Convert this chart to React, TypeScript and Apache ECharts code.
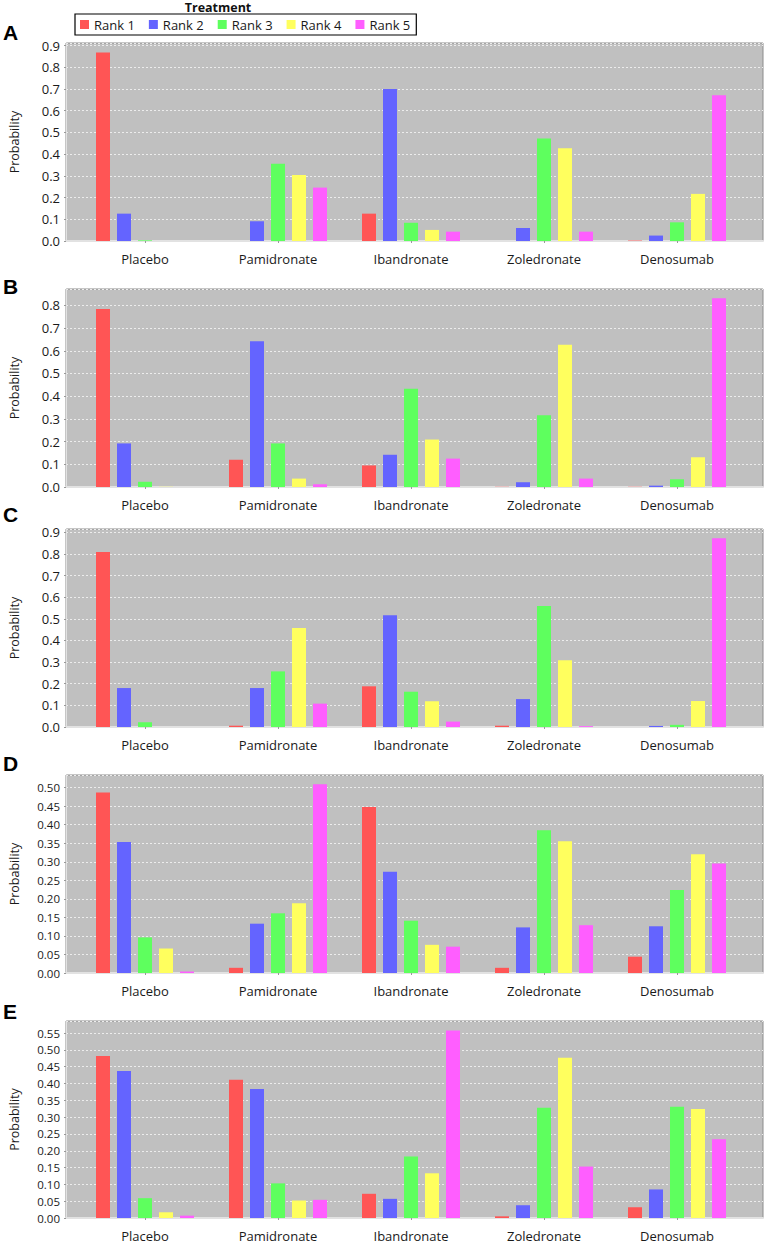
import React, { useEffect, useRef } from "react";
import * as echarts from "echarts";

const categories = ["Placebo", "Pamidronate", "Ibandronate", "Zoledronate", "Denosumab"];
const rankNames = ["Rank 1", "Rank 2", "Rank 3", "Rank 4", "Rank 5"];
const rankColors = ["#ff5555", "#6464ff", "#5eff5e", "#ffff5e", "#ff5eff"];

// rows = ranks, columns = categories
const probA = [
  [0.868, 0.0, 0.126, 0.0, 0.002],
  [0.126, 0.091, 0.70, 0.06, 0.025],
  [0.003, 0.356, 0.084, 0.472, 0.086],
  [0.0, 0.304, 0.051, 0.427, 0.217],
  [0.0, 0.246, 0.043, 0.043, 0.671],
];
const probB = [
  [0.784, 0.12, 0.095, 0.001, 0.001],
  [0.192, 0.642, 0.142, 0.021, 0.006],
  [0.023, 0.192, 0.433, 0.316, 0.034],
  [0.001, 0.037, 0.209, 0.626, 0.131],
  [0.0, 0.012, 0.125, 0.037, 0.831],
];
const probC = [
  [0.809, 0.006, 0.188, 0.006, 0.0],
  [0.18, 0.18, 0.516, 0.129, 0.005],
  [0.022, 0.257, 0.163, 0.559, 0.01],
  [0.0, 0.458, 0.119, 0.308, 0.12],
  [0.0, 0.108, 0.025, 0.004, 0.872],
];
const probD = [
  [0.487, 0.014, 0.448, 0.014, 0.044],
  [0.353, 0.133, 0.273, 0.123, 0.126],
  [0.096, 0.161, 0.141, 0.385, 0.224],
  [0.066, 0.188, 0.076, 0.355, 0.32],
  [0.004, 0.509, 0.071, 0.129, 0.295],
];
const probE = [
  [0.482, 0.411, 0.072, 0.005, 0.032],
  [0.437, 0.384, 0.057, 0.038, 0.085],
  [0.059, 0.103, 0.183, 0.328, 0.331],
  [0.017, 0.052, 0.133, 0.477, 0.324],
  [0.007, 0.054, 0.558, 0.153, 0.234],
];

const panelLetters = ["A", "B", "C", "D", "E"];
const panelData = [probA, probB, probC, probD, probE];
const axisMax = [0.912, 0.872, 0.915, 0.534, 0.586];
const axisInterval = [0.1, 0.1, 0.1, 0.05, 0.05];
const labelDecimals = [1, 1, 1, 2, 2];

// layout (pixels)
const plotTops = [43, 289, 529, 775, 1021];
const plotBottoms = [241, 487, 727, 973, 1218];
const letterTops = [22, 276, 504, 753, 1001];
const tickFont = [13, 13, 13, 11.5, 11.5];

const FONT = '"Open Sans", "DejaVu Sans", sans-serif';

export default function App() {
  const ref = useRef<HTMLDivElement>(null);
  useEffect(() => {
    if (!ref.current) return;
    const chart = echarts.init(ref.current, undefined, { renderer: "svg" });
    const grid: any[] = [];
    const xAxis: any[] = [];
    const yAxis: any[] = [];
    const series: any[] = [];
    const graphic: any[] = [];

    const plotLeft = 60;
    const plotWidth = 703;
    const barLeft = 78.5;
    const barWidthArea = 665;

    panelData.forEach((data, p) => {
      const top = plotTops[p];
      const height = plotBottoms[p] - plotTops[p];
      grid.push({
        left: plotLeft,
        top,
        width: plotWidth,
        height,
        show: true,
        backgroundColor: "#c0c0c0",
        borderColor: "#8c8c8c",
        borderWidth: 1,
      });
      grid.push({ left: barLeft, top, width: barWidthArea, height, show: false });

      xAxis.push({
        gridIndex: 2 * p,
        type: "category",
        data: [""],
        offset: 1,
        axisLine: { show: true, lineStyle: { color: "#e2e2e2", width: 2 } },
        axisTick: { show: false },
        axisLabel: { show: false },
        splitLine: { show: false },
      });
      xAxis.push({
        gridIndex: 2 * p + 1,
        type: "category",
        data: categories,
        offset: 2,
        axisLine: { show: false },
        axisTick: { show: true, alignWithLabel: true, length: 2, lineStyle: { color: "#999" } },
        axisLabel: { margin: 9, fontSize: 13, fontFamily: FONT, color: "#1a1a1a" },
        splitLine: { show: false },
      });

      const dec = labelDecimals[p];
      yAxis.push({
        gridIndex: 2 * p,
        type: "value",
        min: 0,
        max: axisMax[p],
        interval: axisInterval[p],
        name: "Probability",
        nameLocation: "middle",
        nameGap: 45,
        nameTextStyle: { fontSize: 12.5, fontFamily: FONT, color: "#1a1a1a" },
        axisLine: { show: true, lineStyle: { color: "#e2e2e2", width: 1 } },
        axisTick: { show: true, length: 2, lineStyle: { color: "#999" } },
        axisLabel: {
          showMaxLabel: false,
          margin: 6,
          fontSize: tickFont[p],
          fontFamily: FONT,
          color: "#1a1a1a",
          formatter: (v: number) => v.toFixed(dec),
        },
        splitLine: { show: true, lineStyle: { color: "#ececec", type: [2, 2], width: 1 } },
      });
      yAxis.push({
        gridIndex: 2 * p + 1,
        type: "value",
        min: 0,
        max: axisMax[p],
        show: false,
        splitLine: { show: false },
      });

      data.forEach((vals, r) => {
        series.push({
          name: rankNames[r],
          type: "bar",
          xAxisIndex: 2 * p + 1,
          yAxisIndex: 2 * p + 1,
          data: vals,
          barWidth: 14,
          barGap: "50%",
          itemStyle: { color: rankColors[r] },
          z: 3,
        });
      });

      graphic.push({
        type: "text",
        left: 3,
        top: letterTops[p],
        style: {
          text: panelLetters[p],
          font: 'bold 21px "Liberation Sans", Arial, sans-serif',
          fill: "#000",
        },
      });
    });

    graphic.push({
      type: "text",
      x: 218,
      y: 7,
      style: {
        text: "Treatment",
        font: `bold 12.5px ${FONT}`,
        fill: "#111",
        align: "center",
        verticalAlign: "middle",
      },
    });

    chart.setOption({
      animation: false,
      grid,
      xAxis,
      yAxis,
      series,
      graphic,
      legend: {
        data: rankNames.map((n, i) => ({ name: n, itemStyle: { color: rankColors[i] } })),
        left: 75,
        top: 14,
        orient: "horizontal",
        icon: "rect",
        itemWidth: 9,
        itemHeight: 9,
        itemGap: 14,
        padding: [4, 6, 4, 5],
        borderColor: "#000",
        borderWidth: 1.2,
        backgroundColor: "#fff",
        textStyle: { fontSize: 13, fontFamily: FONT, color: "#1a1a1a" },
        selectedMode: false,
      },
    });
    return () => chart.dispose();
  }, []);
  return (
    <div
      ref={ref}
      style={{ position: "absolute", left: 0, top: 0, width: 765, height: 1245, background: "#fff" }}
    />
  );
}
